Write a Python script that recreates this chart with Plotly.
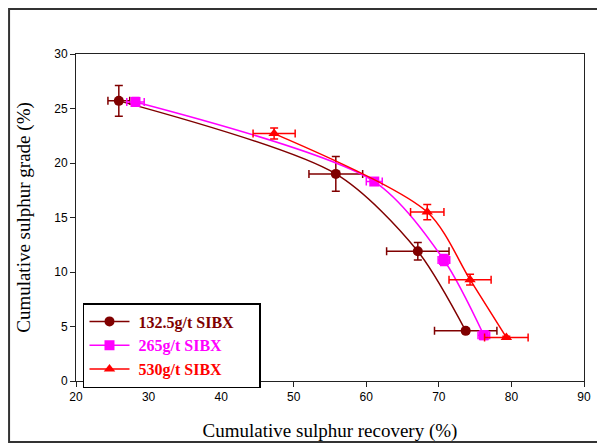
import plotly.graph_objects as go

names = ["132.5g/t SIBX", "265g/t SIBX", "530g/t SIBX"]
colors = ["#800000", "#FF00FF", "#FF0000"]
symbols = ["circle", "square", "triangle-up"]

rec_1 = [25.9, 55.8, 67.1, 73.7]
grade_1 = [25.7, 19.0, 11.9, 4.6]
rec_err_1 = [1.5, 3.7, 4.3, 4.3]
grade_err_1 = [1.4, 1.6, 0.8, 0.2]

rec_2 = [28.2, 61.1, 70.7, 76.2]
grade_2 = [25.6, 18.3, 11.1, 4.2]
rec_err_2 = [1.2, 1.1, 0.8, 0.8]
grade_err_2 = [0.4, 0.3, 0.5, 0.4]

rec_3 = [47.3, 68.4, 74.3, 79.3]
grade_3 = [22.7, 15.5, 9.3, 4.0]
rec_err_3 = [2.9, 2.3, 2.9, 3.0]
grade_err_3 = [0.5, 0.7, 0.5, 0.1]

x_ticks = [20, 30, 40, 50, 60, 70, 80, 90]
y_ticks = [0, 5, 10, 15, 20, 25, 30]

series = [
    (rec_1, grade_1, rec_err_1, grade_err_1),
    (rec_2, grade_2, rec_err_2, grade_err_2),
    (rec_3, grade_3, rec_err_3, grade_err_3),
]

fig = go.Figure()
for (x, y, ex, ey), name, c, s in zip(series, names, colors, symbols):
    fig.add_trace(go.Scatter(
        x=x, y=y, mode="lines+markers",
        name=f"&nbsp;<b><span style='color:{c}'>{name}</span></b>&nbsp;&nbsp;&nbsp;&nbsp;&nbsp;",
        line=dict(color=c, width=1.5, shape="spline", smoothing=0.8),
        marker=dict(symbol=s, size=10, color=c),
        error_x=dict(type="data", array=ex, color=c, thickness=1.5, width=4),
        error_y=dict(type="data", array=ey, color=c, thickness=1.5, width=4),
    ))

# page body adds an 8px offset; figure coordinates are screen - 8
W, H = 597, 438
L, T = 68, 46
R = W - 576.5
B = H - 373
pw, ph = W - L - R, H - T - B

fig.add_shape(type="rect", xref="paper", yref="paper",
              x0=(1 - L) / pw, x1=(640 - L) / pw,
              y0=(H - B - 434) / ph, y1=(H - B - 1) / ph,
              line=dict(color="#333333", width=2), layer="below")

axis_common = dict(
    showgrid=False, zeroline=False, showline=True, linecolor="#222222",
    linewidth=1, mirror=True, ticks="outside", ticklen=5, tickcolor="#222222",
    automargin=False,
    tickfont=dict(family="Liberation Sans, Arial", size=12, color="black"),
)

fig.update_layout(
    width=W, height=H,
    margin=dict(l=L, r=R, t=T, b=B, autoexpand=False),
    paper_bgcolor="white", plot_bgcolor="white",
    xaxis=dict(range=[20, 90], tickvals=x_ticks, **axis_common,
               title=dict(text="Cumulative sulphur recovery (%)",
                          font=dict(family="Liberation Serif, Times New Roman", size=19, color="black"),
                          standoff=20)),
    yaxis=dict(range=[0, 30], tickvals=y_ticks, **axis_common,
               title=dict(text="Cumulative sulphur grade (%)",
                          font=dict(family="Liberation Serif, Times New Roman", size=19, color="black"),
                          standoff=18)),
    legend=dict(x=(83 - 76) / pw, y=(381 - 303) / ph, xanchor="left", yanchor="top",
                bordercolor="black", borderwidth=1.5, bgcolor="white",
                font=dict(family="Liberation Serif, Times New Roman", size=16),
                itemwidth=40, tracegroupgap=0),
    showlegend=True,
)

fig.write_html("out.html")
